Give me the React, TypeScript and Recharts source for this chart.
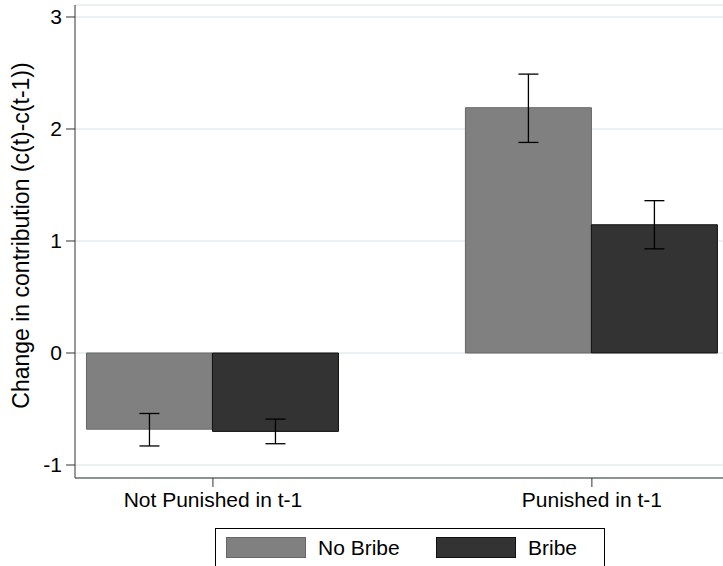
import { BarChart, Bar, XAxis, YAxis, CartesianGrid, ErrorBar } from "recharts";

// Kategorier (x-position 0 och 1 på en numerisk axel)
const categories = ["Not Punished in t-1", "Punished in t-1"];
const categoryPos = [0, 1];

// Medelvärden och konfidensintervall per serie
const noBribeMean = [-0.68, 2.19];
const noBribeLow = [-0.83, 1.88];
const noBribeHigh = [-0.54, 2.49];

const bribeMean = [-0.7, 1.145];
const bribeLow = [-0.81, 0.93];
const bribeHigh = [-0.59, 1.36];

const yTicks = [-1, 0, 1, 2, 3];

const series = [
  { key: "noBribe", err: "noBribeErr", name: "No Bribe", fill: "#808080", stroke: "#666666" },
  { key: "bribe", err: "bribeErr", name: "Bribe", fill: "#333333", stroke: "#111111" },
];

const data = categories.map((c, i) => ({
  x: categoryPos[i],
  name: c,
  noBribe: noBribeMean[i],
  noBribeErr: [noBribeMean[i] - noBribeLow[i], noBribeHigh[i] - noBribeMean[i]],
  bribe: bribeMean[i],
  bribeErr: [bribeMean[i] - bribeLow[i], bribeHigh[i] - bribeMean[i]],
}));

const font = "'Liberation Sans', Arial, Helvetica, sans-serif";
const fs = 21;

const YLabel = (props: any) => {
  const vb = props.viewBox || { x: 0, y: 0, width: 0, height: 0 };
  const cx = 20.5;
  const cy = vb.y + vb.height / 2 - 6;
  return (
    <text
      x={cx}
      y={cy}
      transform={`rotate(-90 ${cx} ${cy})`}
      textAnchor="middle"
      dominantBaseline="central"
      fontSize={23}
      fontFamily={font}
      fill="#000"
    >
      Change in contribution (c(t)-c(t-1))
    </text>
  );
};

export default function App() {
  return (
    <div
      style={{
        position: "absolute",
        left: 0,
        top: 0,
        width: 723,
        height: 566,
        overflow: "hidden",
        background: "#fff",
        fontFamily: font,
      }}
    >
      <BarChart
        width={723}
        height={566}
        data={data}
        margin={{ top: 5, right: 0, bottom: 0, left: 0 }}
        barGap={0}
      >
        <CartesianGrid horizontal vertical={false} stroke="#e4ecee" strokeWidth={1.5} />
        <XAxis
          dataKey="x"
          type="number"
          domain={[-0.364, 1.346]}
          allowDataOverflow
          ticks={categoryPos}
          tickFormatter={(v: number) => categories[categoryPos.indexOf(v)] ?? ""}
          height={88}
          tickSize={9}
          tickMargin={5}
          stroke="#333"
          tick={{ fill: "#000", fontSize: fs, fontFamily: font }}
        />
        <YAxis
          domain={[-1.116, 3.107]}
          allowDataOverflow
          ticks={yTicks}
          width={75}
          tickSize={9}
          tickMargin={4}
          stroke="#333"
          tick={{ fill: "#000", fontSize: fs, fontFamily: font }}
          label={{ content: <YLabel /> }}
        />
        {series.map((s) => (
          <Bar
            key={s.key}
            dataKey={s.key}
            name={s.name}
            fill={s.fill}
            stroke={s.stroke}
            strokeWidth={1}
            barSize={126}
            isAnimationActive={false}
          >
            <ErrorBar dataKey={s.err} width={10} stroke="#000" strokeWidth={1.3} direction="y" />
          </Bar>
        ))}
      </BarChart>

      {/* Egen legend under diagrammet */}
      <div
        style={{
          position: "absolute",
          left: 215,
          top: 528,
          width: 390,
          height: 50,
          border: "1px solid #000",
          boxSizing: "border-box",
          background: "#fff",
        }}
      >
        {series.map((s, i) => (
          <div
            key={s.key}
            style={{
              position: "absolute",
              left: 10 + i * 210,
              top: 8,
              height: 21,
              display: "flex",
              alignItems: "center",
            }}
          >
            <div
              style={{
                width: 80,
                height: 21,
                background: s.fill,
                border: `1px solid ${s.stroke}`,
                boxSizing: "border-box",
              }}
            />
            <span style={{ marginLeft: 12, fontSize: fs, color: "#000", lineHeight: "21px" }}>
              {s.name}
            </span>
          </div>
        ))}
      </div>
    </div>
  );
}
